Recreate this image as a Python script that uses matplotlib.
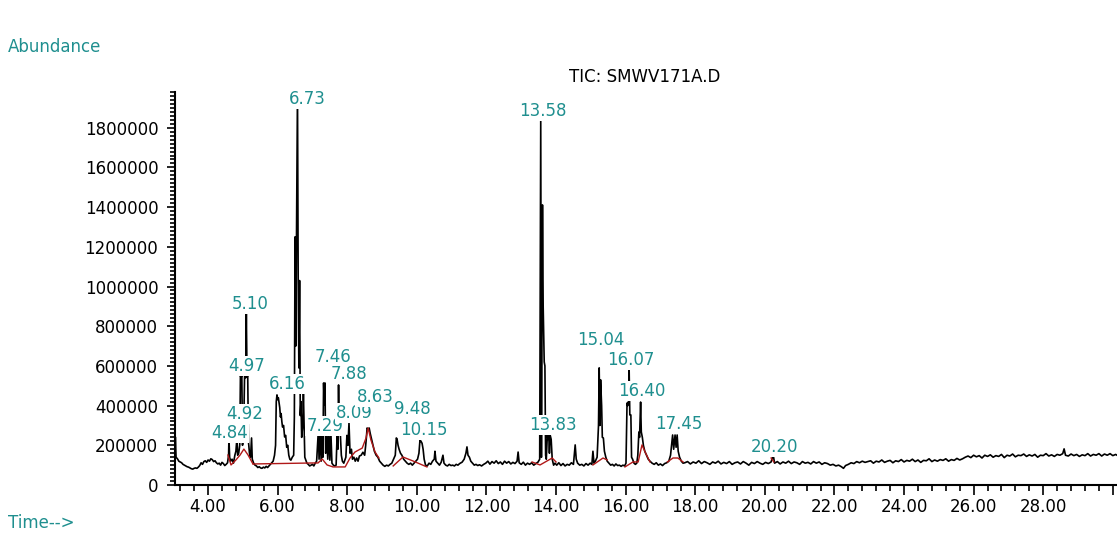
import matplotlib
matplotlib.use('Agg')
import matplotlib.pyplot as plt
from matplotlib.ticker import MultipleLocator, FixedLocator, FuncFormatter

# TIC trace, retention time (min) and abundance
time_min = [
    3.05, 3.06, 3.08, 3.12, 3.16, 3.20, 3.24, 3.28, 3.32, 3.36,
    3.40, 3.44, 3.48, 3.52, 3.56, 3.60, 3.64, 3.68, 3.72, 3.76,
    3.80, 3.84, 3.88, 3.92, 3.96, 4.00, 4.04, 4.08, 4.12, 4.16,
    4.20, 4.24, 4.28, 4.32, 4.36, 4.40, 4.44, 4.48, 4.52, 4.56,
    4.59, 4.60, 4.62, 4.65, 4.69, 4.73, 4.77, 4.80, 4.83, 4.85,
    4.88, 4.91, 4.93, 4.95, 4.97, 4.99, 5.02, 5.05, 5.08, 5.10,
    5.12, 5.14, 5.16, 5.19, 5.22, 5.25, 5.27, 5.31, 5.35,
    5.39, 5.43, 5.47, 5.51, 5.55, 5.59, 5.63, 5.67, 5.71, 5.75,
    5.79, 5.83, 5.87, 5.91, 5.94, 5.96, 5.98, 6.00, 6.02, 6.04,
    6.06, 6.08, 6.10, 6.12, 6.14, 6.17, 6.20, 6.23, 6.26, 6.29,
    6.32, 6.35, 6.38, 6.42,
    6.46, 6.48, 6.50, 6.52, 6.54, 6.57, 6.59, 6.61, 6.63, 6.65,
    6.67, 6.69, 6.72, 6.74, 6.76, 6.78, 6.80, 6.84, 6.88, 6.92,
    6.96, 7.00, 7.04, 7.08, 7.12,
    7.17, 7.19, 7.22, 7.25, 7.28, 7.30, 7.32, 7.34, 7.36, 7.38,
    7.41, 7.44, 7.47, 7.50, 7.53, 7.56, 7.60, 7.64, 7.68, 7.71,
    7.73, 7.75, 7.77, 7.80, 7.83, 7.86, 7.90, 7.96, 7.99, 8.02,
    8.05, 8.08, 8.12, 8.15, 8.19, 8.23, 8.27, 8.31, 8.35,
    8.40, 8.45, 8.50, 8.53, 8.55, 8.57, 8.60, 8.63, 8.66, 8.70,
    8.74, 8.78, 8.83, 8.88, 8.93, 8.98, 9.03, 9.08, 9.13, 9.18,
    9.23, 9.28, 9.33, 9.38, 9.41, 9.43, 9.46, 9.49, 9.53, 9.57,
    9.62, 9.67, 9.72, 9.77, 9.82, 9.87, 9.92, 9.97, 10.02,
    10.06, 10.09, 10.12, 10.15, 10.18, 10.21, 10.25, 10.30, 10.35, 10.40,
    10.45, 10.50, 10.52, 10.55, 10.60, 10.65, 10.70, 10.75, 10.78, 10.83,
    10.88, 10.93, 10.98, 11.03, 11.08, 11.13, 11.18, 11.23, 11.30, 11.36,
    11.41, 11.44, 11.47, 11.51, 11.55, 11.60, 11.65, 11.70, 11.75, 11.80,
    11.86, 11.92,
    11.98, 12.04, 12.10, 12.16, 12.22, 12.28, 12.34, 12.40, 12.46, 12.52,
    12.58, 12.64, 12.70, 12.76, 12.82, 12.88, 12.91, 12.94, 13.00, 13.06,
    13.12, 13.18, 13.24, 13.30, 13.36, 13.42, 13.48, 13.53, 13.56, 13.58,
    13.61, 13.63, 13.66, 13.68, 13.70, 13.72, 13.75, 13.77, 13.79, 13.81,
    13.83, 13.86, 13.89, 13.93, 13.97,
    14.02, 14.08, 14.14, 14.20, 14.26, 14.32, 14.38, 14.44, 14.50, 14.55,
    14.58, 14.62, 14.68, 14.74, 14.80, 14.86, 14.92, 14.98, 15.03, 15.06,
    15.09, 15.13, 15.18, 15.22, 15.24, 15.26, 15.28, 15.31, 15.33, 15.36,
    15.39, 15.43, 15.47, 15.52, 15.57, 15.62, 15.67, 15.72, 15.77, 15.82,
    15.87, 15.92, 15.97,
    16.01, 16.04, 16.06, 16.08, 16.10, 16.12, 16.15, 16.17, 16.20, 16.24,
    16.28, 16.32, 16.35, 16.38, 16.40, 16.43, 16.45, 16.48, 16.51, 16.55,
    16.60, 16.65, 16.70, 16.76, 16.82, 16.88, 16.94, 17.00, 17.06, 17.12,
    17.18, 17.24, 17.29, 17.32, 17.35, 17.38, 17.42, 17.45, 17.48, 17.51,
    17.55, 17.60, 17.65,
    17.70, 17.78, 17.86, 17.94, 18.02, 18.10, 18.18, 18.26, 18.34, 18.42,
    18.50, 18.58, 18.66, 18.74, 18.82, 18.90, 18.98, 19.06, 19.14, 19.22,
    19.30, 19.38, 19.46, 19.54, 19.62, 19.70, 19.78, 19.86, 19.94, 20.02,
    20.10, 20.18, 20.24, 20.28, 20.36, 20.44, 20.52, 20.60, 20.68, 20.76,
    20.84, 20.92, 21.00, 21.08, 21.16, 21.24, 21.32, 21.40, 21.48, 21.56,
    21.64, 21.72, 21.80, 21.88, 21.96, 22.04, 22.12, 22.20, 22.26, 22.32,
    22.40, 22.48, 22.56, 22.64, 22.72, 22.80, 22.88, 22.96, 23.04, 23.12,
    23.20, 23.28, 23.36, 23.44, 23.52, 23.60, 23.68, 23.76, 23.84, 23.92,
    24.00, 24.08, 24.16, 24.24, 24.32, 24.40, 24.48, 24.56, 24.64, 24.72,
    24.80, 24.88, 24.96, 25.04, 25.12, 25.20, 25.28, 25.36, 25.44, 25.52,
    25.60, 25.68, 25.76, 25.84, 25.92, 26.00, 26.08, 26.16, 26.24, 26.32,
    26.40, 26.48, 26.56, 26.64, 26.72, 26.80, 26.88, 26.96, 27.04, 27.12,
    27.20, 27.28, 27.36, 27.44, 27.52, 27.60, 27.68, 27.76, 27.84, 27.92,
    28.00, 28.08, 28.16, 28.24, 28.32, 28.40, 28.48, 28.56, 28.60, 28.64,
    28.72, 28.80, 28.88, 28.96, 29.04, 29.12, 29.20, 29.28, 29.36, 29.44,
    29.52, 29.60, 29.68, 29.76, 29.84, 29.92, 30.00, 30.08, 30.12,
]

abundance = [
    128000, 242000, 140000, 132000, 120000, 116000, 112000, 104000, 100000, 96000,
    92000, 90000, 86000, 82000, 80000, 84000, 86000, 84000, 90000, 98000,
    112000, 104000, 118000, 122000, 114000, 126000, 120000, 132000, 128000, 118000,
    122000, 112000, 106000, 110000, 100000, 114000, 108000, 98000, 104000, 112000,
    150000, 237000, 140000, 120000, 130000, 110000, 150000, 170000, 237000, 150000,
    160000, 200000, 550000, 540000, 555000, 200000, 250000, 555000, 540000, 867000,
    545000, 550000, 220000, 160000, 140000, 237000, 130000, 110000, 100000,
    96000, 88000, 92000, 86000, 84000, 90000, 86000, 94000, 88000, 96000,
    104000, 112000, 120000, 150000, 200000, 420000, 454000, 430000, 440000, 413000,
    390000, 343000, 360000, 320000, 292000, 300000, 242000, 250000, 190000, 200000,
    150000, 130000, 125000, 140000,
    150000, 343000, 1250000, 700000, 1250000, 1990000, 1030000, 590000, 1030000, 350000,
    420000, 240000, 300000, 464000, 300000, 140000, 130000, 110000, 104000, 96000,
    100000, 104000, 96000, 110000, 120000,
    277000, 130000, 270000, 120000, 262000, 140000, 514000, 403000, 514000, 160000,
    262000, 130000, 277000, 125000, 262000, 110000, 100000, 96000, 100000, 262000,
    180000, 504000, 260000, 262000, 150000, 120000, 110000, 140000, 250000, 200000,
    312000, 160000, 180000, 130000, 140000, 120000, 136000, 120000, 146000,
    150000, 165000, 150000, 200000, 240000, 287000, 282000, 287000, 260000, 230000,
    200000, 170000, 150000, 140000, 120000, 110000, 100000, 94000, 100000, 96000,
    104000, 110000, 130000, 150000, 237000, 232000, 200000, 180000, 160000, 150000,
    130000, 120000, 110000, 104000, 110000, 100000, 110000, 120000, 130000,
    160000, 227000, 220000, 210000, 180000, 130000, 100000, 96000, 110000, 104000,
    120000, 130000, 170000, 120000, 110000, 100000, 115000, 150000, 110000, 100000,
    96000, 104000, 98000, 100000, 96000, 104000, 100000, 108000, 115000, 130000,
    160000, 192000, 150000, 140000, 120000, 110000, 100000, 104000, 98000, 102000,
    96000, 104000,
    110000, 120000, 105000, 118000, 110000, 122000, 108000, 116000, 104000, 120000,
    110000, 118000, 106000, 114000, 108000, 120000, 166000, 112000, 104000, 115000,
    100000, 110000, 104000, 112000, 100000, 108000, 115000, 130000, 1840000, 140000,
    1411000, 900000, 620000, 600000, 150000, 130000, 252000, 230000, 252000, 160000,
    252000, 230000, 130000, 100000, 110000,
    100000, 112000, 98000, 108000, 96000, 104000, 100000, 112000, 104000, 202000,
    130000, 110000, 100000, 104000, 96000, 108000, 100000, 110000, 104000, 170000,
    110000, 120000, 140000, 300000, 590000, 300000, 530000, 400000, 240000, 237000,
    170000, 140000, 120000, 110000, 100000, 104000, 96000, 106000, 98000, 100000,
    94000, 100000, 96000,
    110000, 413000, 400000, 418000, 590000, 353000, 353000, 140000, 130000, 110000,
    104000, 110000, 150000, 267000, 240000, 418000, 267000, 240000, 200000, 170000,
    150000, 130000, 120000, 110000, 104000, 112000, 100000, 106000, 98000, 108000,
    112000, 120000, 150000, 200000, 252000, 180000, 252000, 190000, 252000, 170000,
    140000, 120000, 110000,
    112000, 118000, 106000, 116000, 110000, 122000, 108000, 118000, 112000, 104000,
    116000, 110000, 120000, 106000, 114000, 108000, 118000, 104000, 112000, 116000,
    106000, 118000, 110000, 100000, 114000, 108000, 118000, 110000, 104000, 114000,
    108000, 116000, 152000, 110000, 118000, 106000, 116000, 110000, 120000, 108000,
    116000, 112000, 104000, 118000, 110000, 114000, 106000, 118000, 110000, 116000,
    104000, 112000, 108000, 100000, 104000, 96000, 100000, 92000, 84000, 98000,
    104000, 112000, 108000, 118000, 112000, 120000, 114000, 118000, 122000, 110000,
    120000, 116000, 126000, 114000, 120000, 124000, 112000, 122000, 118000, 128000,
    116000, 124000, 120000, 130000, 118000, 126000, 114000, 124000, 122000, 132000,
    118000, 126000, 120000, 128000, 124000, 132000, 120000, 128000, 124000, 134000,
    126000, 132000, 140000, 146000, 138000, 150000, 142000, 148000, 136000, 150000,
    144000, 152000, 140000, 148000, 144000, 154000, 138000, 150000, 146000, 156000,
    142000, 150000, 148000, 156000, 144000, 152000, 146000, 154000, 140000, 150000,
    148000, 158000, 146000, 152000, 144000, 154000, 150000, 158000, 182000, 150000,
    146000, 156000, 148000, 154000, 144000, 152000, 148000, 158000, 146000, 154000,
    150000, 158000, 146000, 156000, 150000, 158000, 148000, 154000, 150000,
]

# integration baselines (red), one list per peak group
baseline_t = [
    [4.57, 4.66, 4.80, 4.92, 5.03, 5.15, 5.29],
    [5.30, 7.02, 7.16, 7.28, 7.42, 7.59, 7.94, 8.08, 8.22, 8.43, 8.54, 8.60, 8.68, 8.80, 8.91],
    [9.32, 9.60, 9.89, 10.29],
    [13.31, 13.54, 13.89, 14.00],
    [15.06, 15.35, 15.47],
    [15.98, 16.21, 16.36, 16.47, 16.56, 16.70],
    [17.20, 17.36, 17.50, 17.65],
    [20.18, 20.26],
]
baseline_v = [
    [151000, 101000, 126000, 151000, 181000, 151000, 106000],
    [106000, 111000, 111000, 131000, 101000, 91000, 91000, 136000, 166000, 186000, 237000, 287000, 227000, 166000, 136000],
    [96000, 141000, 121000, 91000],
    [116000, 101000, 136000, 116000],
    [101000, 136000, 126000],
    [91000, 116000, 116000, 202000, 166000, 116000],
    [116000, 136000, 136000, 116000],
    [136000, 116000],
]

# peak labels and where they sit on the picture
peak_labels = ['4.84', '4.92', '4.97', '5.10', '6.16', '6.73', '7.29', '7.46', '7.88', '8.09',
               '8.63', '9.48', '10.15', '13.58', '13.83', '15.04', '16.07', '16.40', '17.45', '20.20']
label_t = [4.62, 5.06, 5.12, 5.21, 6.27, 6.84, 7.36, 7.59, 8.05, 8.20,
           8.80, 9.86, 10.21, 13.63, 13.91, 15.28, 16.16, 16.47, 17.53, 20.29]
label_v = [262000, 358000, 600000, 912000, 509000, 1945000, 297000, 645000, 559000, 363000,
           443500, 383000, 277000, 1885000, 302000, 731000, 630000, 474000, 307000, 191500]

assert len(time_min) == len(abundance)

teal = '#1f8f8f'
fs = 12

fig = plt.figure(figsize=(11.17, 5.39), dpi=100)
ax = fig.add_axes([175 / 1117, 54 / 539, 942 / 1117, 393 / 539])

ax.plot(time_min, abundance, color='black', linewidth=1.2, zorder=2)
for bt, bv in zip(baseline_t, baseline_v):
    ax.plot(bt, bv, color='#b01818', linewidth=1.0, zorder=3)

# labels sit on white boxes that hide the trace behind them
for i, (s, t, v) in enumerate(zip(peak_labels, label_t, label_v)):
    ax.text(t, v, s, ha='center', va='center', color=teal, fontsize=fs, zorder=5 + i,
            bbox=dict(facecolor='white', edgecolor='none', pad=1.0))

ax.set_xlim(3.05, 30.12)
ax.set_ylim(0, 1980000)

ax.spines['top'].set_visible(False)
ax.spines['right'].set_visible(False)
ax.spines['left'].set_linewidth(1.5)
ax.spines['bottom'].set_linewidth(1.5)

ax.xaxis.set_major_locator(FixedLocator([4, 6, 8, 10, 12, 14, 16, 18, 20, 22, 24, 26, 28, 30]))
ax.xaxis.set_minor_locator(MultipleLocator(0.4))
ax.xaxis.set_major_formatter(FuncFormatter(lambda x, p: '' if x > 29 else f'{x:.2f}'))
ax.yaxis.set_major_locator(MultipleLocator(200000))
ax.yaxis.set_minor_locator(MultipleLocator(20000))
ax.yaxis.set_major_formatter(FuncFormatter(lambda y, p: f'{int(round(y))}'))

ax.tick_params(axis='both', which='both', direction='out', width=1.2, labelsize=fs, colors='black')
ax.tick_params(axis='x', which='major', length=7, pad=2)
ax.tick_params(axis='x', which='minor', length=4.5)
ax.tick_params(axis='y', which='major', length=6, pad=6)
ax.tick_params(axis='y', which='minor', length=3.5)

fig.text(8 / 1117, 1 - 47 / 539, 'Abundance', color=teal, fontsize=fs, ha='left', va='center')
fig.text(8 / 1117, 1 - 523 / 539, 'Time-->', color=teal, fontsize=fs, ha='left', va='center')
fig.text(645 / 1117, 1 - 77 / 539, 'TIC: SMWV171A.D', color='black', fontsize=fs, ha='center', va='center')

fig.savefig('out.png', dpi=100, facecolor='white')
